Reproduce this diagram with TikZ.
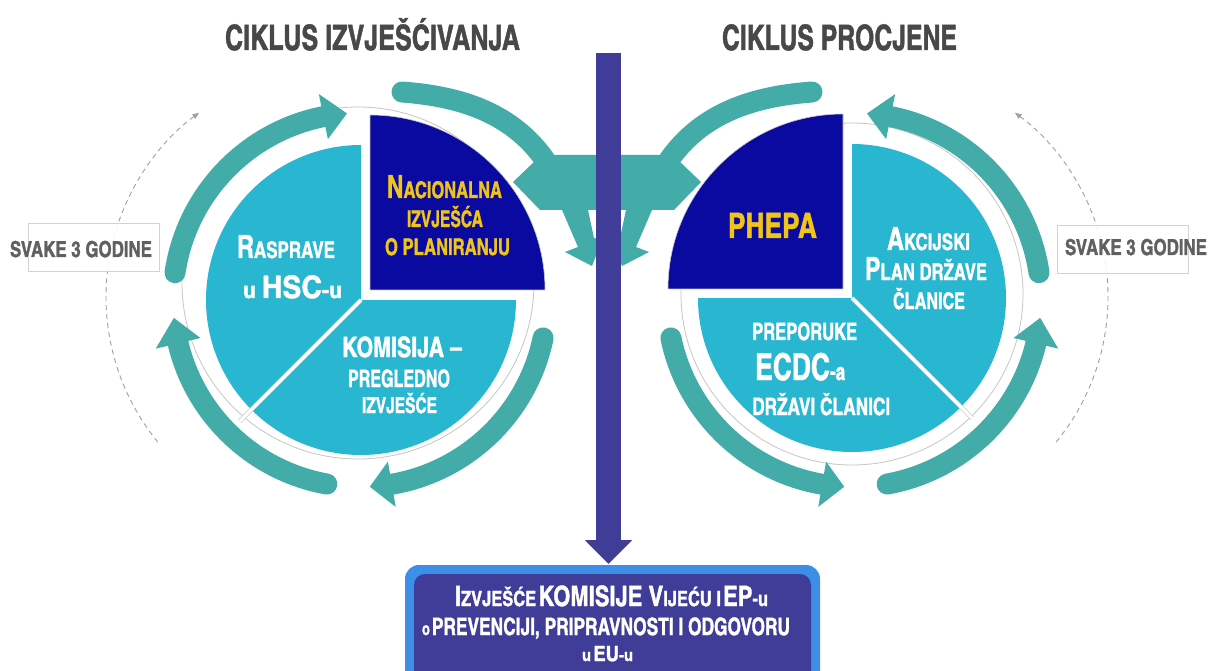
\documentclass[tikz,border=0pt]{standalone}
\usepackage{fontspec}
\usepackage{graphicx}
\newfontfamily\cf{texgyreheroscn-bold.otf}[FakeStretch=0.85,FakeBold=1.2]
\usetikzlibrary{arrows.meta}
\definecolor{teal1}{RGB}{68,172,168}
\definecolor{dblue}{RGB}{10,10,160}
\definecolor{lblue}{RGB}{41,182,208}
\definecolor{yel}{RGB}{240,196,25}
\definecolor{barc}{RGB}{64,61,153}
\definecolor{boxb}{RGB}{60,142,230}
\definecolor{tgray}{RGB}{72,72,72}
\definecolor{lgray}{RGB}{96,96,96}
\newcommand{\fz}[2]{{\fontsize{#1pt}{#1pt}\selectfont #2}}
\newcommand{\fw}[2]{\resizebox{#1pt}{\height}{#2}}
\newcommand{\myarrowset}{%
  % dashed cycle arc
  \draw[dasharc] ([shift={(335,297)}]-219.3:229) arc[start angle=-219.3,end angle=-126.3,radius=229];
  % upper-left arrow
  \draw[shaft] ([shift={(360,300)}]-171.6:187) arc[start angle=-171.6,end angle=-101.3,radius=187];
  \fill[teal1] ([shift={(360,300)}]-101.3:164) -- ([shift={(360,300)}]-101.3:210) -- ([shift={(360,300)}]-94:187) -- cycle;
  % lower-left arrow
  \draw[shaft] ([shift={(360,300)}]-259.8:187) arc[start angle=-259.8,end angle=-193.4,radius=187];
  \fill[teal1] ([shift={(360,300)}]-193.4:164) -- ([shift={(360,300)}]-193.4:210) -- ([shift={(360,300)}]-185.5:187) -- cycle;
  % lower-right arrow
  \draw[shaft] ([shift={(360,300)}]-348.3:187) arc[start angle=-348.3,end angle=-279.8,radius=187];
  \fill[teal1] ([shift={(360,300)}]-279.8:164) -- ([shift={(360,300)}]-279.8:210) -- ([shift={(360,300)}]-273:187) -- cycle;
  % connector towards the centre
  \draw[shaft] (402,92) .. controls (455,96) and (510,110) .. (545,160);
  \fill[teal1] (513,182) -- (536,160) -- (552,155) -- (607.5,155) -- (607.5,210) -- (588,210)
     -- (594,238) -- (602,240) -- (592,266) -- (565,252) -- (578,247) -- (562,210) -- (540,210) -- cycle;
}
\begin{document}
\begin{tikzpicture}[x=1pt,y=-1pt,
  shaft/.style={draw=teal1,line width=21pt,line cap=round},
  dasharc/.style={draw=gray!75,line width=0.9pt,dash pattern=on 5pt off 4pt,-{Latex[length=7pt,width=6pt]}},
  txt/.style={inner sep=0pt,anchor=base,font=\cf},
  wtxt/.style={txt,text=white},
  ytxt/.style={txt,text=yel},
  gbox/.style={fill=white,fill opacity=0.9,draw=gray!35,line width=0.8pt}]
\clip (0,0) rectangle (1208,671);
\fill[white] (0,0) rectangle (1208,671);

% ---------- left circle ----------
\filldraw[fill=white,draw=gray!45,line width=0.8pt] (358,283) circle[radius=176];
\fill[lblue] (361,300) -- ([shift={(361,300)}]-90:155) arc[start angle=-90,end angle=-225,radius=155] -- cycle;
\fill[lblue] (361,300) -- ([shift={(361,300)}]-225:155) arc[start angle=-225,end angle=-360,radius=155] -- cycle;
\draw[gray!40,line width=4.5pt] (361,300) -- ([shift={(361,300)}]-225:172);
\draw[white,line width=3pt] (361,300) -- ([shift={(361,300)}]-225:172);
\filldraw[fill=dblue,draw=gray!45,line width=0.6pt] (370,290) -- ([shift={(370,290)}]0:175) arc[start angle=0,end angle=-90,radius=175] -- cycle;

% ---------- right circle ----------
\filldraw[fill=white,draw=gray!45,line width=0.8pt] (852,294) circle[radius=171];
\fill[lblue] (852,298) -- ([shift={(852,298)}]45:154) arc[start angle=45,end angle=-90,radius=154] -- cycle;
\fill[lblue] (852,298) -- ([shift={(852,298)}]-180:154) arc[start angle=-180,end angle=-315,radius=154] -- cycle;
\draw[gray!40,line width=4.5pt] (852,298) -- ([shift={(852,298)}]45:170);
\draw[white,line width=3pt] (852,298) -- ([shift={(852,298)}]45:170);
\filldraw[fill=dblue,draw=gray!45,line width=0.6pt] (843,289) -- ([shift={(843,289)}]-90:175) arc[start angle=-90,end angle=-180,radius=175] -- cycle;

% ---------- teal arrows ----------
\myarrowset
\begin{scope}[shift={(1214,0)},xscale=-1]
\myarrowset
\end{scope}

% ---------- side labels ----------
\draw[gbox] (28,223) rectangle (159,271);
\draw[gbox] (1057,225) rectangle (1188,273);
\node[txt,text=lgray] (sl) at (81,257) {\fw{142}{\fz{22}{SVAKE 3 GODINE}}};
\node[txt,text=lgray] (sr) at (1136,255) {\fw{142}{\fz{22}{SVAKE 3 GODINE}}};

% ---------- titles ----------
\node[txt,text=tgray] (t1) at (372.5,50) {\fw{295}{\fz{35}{CIKLUS IZVJEŠĆIVANJA}}};
\node[txt,text=tgray] (t2) at (839.5,50) {\fw{235}{\fz{35}{CIKLUS PROCJENE}}};

% ---------- texts left circle ----------
\node[ytxt] (n1) at (444.5,198) {\fw{115}{\fz{32}{N}\fz{23}{ACIONALNA}}};
\node[ytxt] (n2) at (445,227) {\fw{76}{\fz{23}{IZVJEŠĆA}}};
\node[ytxt] (n3) at (447.5,255) {\fw{125}{\fz{23}{O PLANIRANJU}}};
\node[wtxt] (r1) at (286,258) {\fw{98}{\fz{32}{R}\fz{23}{ASPRAVE}}};
\node[wtxt] (r2) at (292.5,298) {\fw{99}{\fz{23}{u }\fz{31}{HSC}\fz{23}{-u}}};
\node[wtxt] (k1) at (402,357) {\fw{120}{\fz{28}{KOMISIJA –}}};
\node[wtxt] (k2) at (399,387) {\fw{102}{\fz{24}{PREGLEDNO}}};
\node[wtxt] (k3) at (399.5,413) {\fw{75}{\fz{22}{IZVJEŠĆE}}};

% ---------- texts right circle ----------
\node[ytxt] (p1) at (772.5,238) {\fw{89}{\fz{35}{PHEPA}}};
\node[wtxt] (a1) at (928.5,250) {\fw{83}{\fz{32}{A}\fz{23}{KCIJSKI}}};
\node[wtxt] (a2) at (926,280) {\fw{122}{\fz{32}{P}\fz{23}{LAN DRŽAVE}}};
\node[wtxt] (a3) at (929,309) {\fw{72}{\fz{23}{ČLANICE}}};
\node[wtxt,anchor=base west] (e1) at (752,340) {\fw{105}{\fz{24}{PREPORUKE}}};
\node[wtxt,anchor=base west] (e2) at (755,380) {\fw{90}{\fz{37}{ECDC}\fz{24}{-a}}};
\node[wtxt,anchor=base west] (e3) at (752,415) {\fw{138}{\fz{24}{DRŽAVI ČLANICI}}};

% ---------- bottom report box ----------
\fill[boxb,rounded corners=14pt] (405,565) rectangle (820,700);
\fill[barc,rounded corners=11pt] (414,574) rectangle (811,700);
\node[wtxt] (b1) at (611.5,606) {\fw{313}{\fz{28}{I}\fz{21}{ZVJEŠĆE} \fz{28}{KOMISIJE V}\fz{21}{IJEĆU I} \fz{28}{EP}\fz{21}{-u}}};
\node[wtxt] (b2) at (606,635) {\fw{368}{\fz{18}{o} \fz{24}{PREVENCIJI, PRIPRAVNOSTI I ODGOVORU}}};
\node[wtxt] (b3) at (607.5,661) {\fw{51}{\fz{17}{u} \fz{21}{EU}\fz{17}{-u}}};

% ---------- central bar ----------
\coordinate (bartop) at (608.5,53);
\coordinate (bartip) at (608.5,564);
\draw[barc,line width=25pt,-{Triangle[length=24pt,width=46pt]}] (bartop) -- (bartip);
\end{tikzpicture}
\end{document}
